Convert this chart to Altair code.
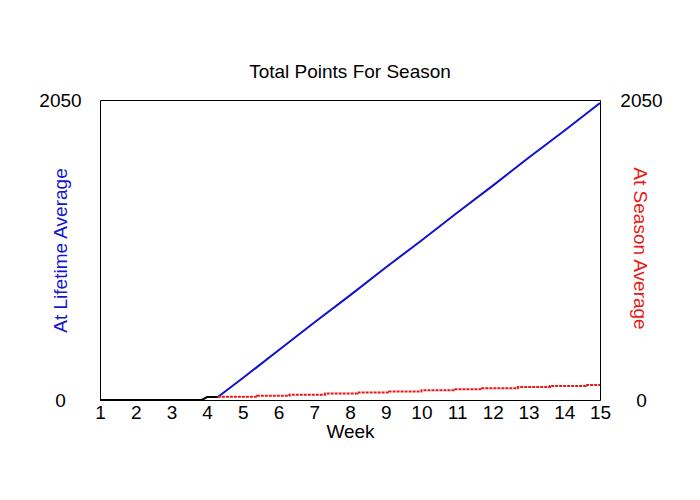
import altair as alt
import pandas as pd

# Data
week_black = [1, 3.85, 4.0, 4.3]
pts_black = [0, 0, 20, 20]

week_blue = [4.3, 5, 6, 7, 8, 9, 10, 11, 12, 13, 14, 15]
pts_blue = [20, 150, 340, 530, 715, 905, 1090, 1280, 1465, 1655, 1840, 2030]

week_red = [4.3, 5.4, 6.3, 7.3, 8.2, 9.1, 10.0, 10.9, 11.7, 12.7, 13.6, 14.6, 15]
pts_red = [22, 29, 36, 44, 51, 58, 66, 73, 80, 88, 95, 102, 102]

x_ticks = list(range(1, 16))
y_ticks = [0, 2050]

left_df = pd.DataFrame({
    "week": week_black + week_blue,
    "pts": pts_black + pts_blue,
    "series": ["pre"] * len(week_black) + ["life"] * len(week_blue),
})
red_df = pd.DataFrame({"week": week_red, "pts": pts_red})

FONT = "Liberation Sans"

x_enc = alt.X(
    "week:Q",
    scale=alt.Scale(domain=[1, 15], nice=False, zero=False),
    axis=alt.Axis(
        values=x_ticks, title="Week", grid=False, ticks=False, tickSize=0,
        domain=False, labelFontSize=19, labelColor="black", labelPadding=3,
        labelFlush=False, titleFontSize=19, titleColor="black",
        titleFontWeight="normal", titlePadding=0, format="d",
    ),
)

left = alt.Chart(left_df).mark_line(strokeWidth=2).encode(
    x=x_enc,
    y=alt.Y(
        "pts:Q",
        scale=alt.Scale(domain=[0, 2050], nice=False),
        axis=alt.Axis(
            orient="left", values=y_ticks, title="At Lifetime Average",
            grid=False, ticks=False, tickSize=0, domain=False, format="d",
            labelFontSize=19, labelColor="black", labelAlign="center",
            labelPadding=40, labelFlush=False, labelBaseline="middle",
            titleColor="#1515d0", titleFontSize=19, titleFontWeight="normal",
            titleAngle=-90, titleX=-40, titleY=150, titleAlign="center",
            titleBaseline="middle",
        ),
    ),
    color=alt.Color(
        "series:N",
        scale=alt.Scale(domain=["pre", "life"], range=["black", "#1010d0"]),
        legend=None,
    ),
    detail="series:N",
)

right = alt.Chart(red_df).mark_line(
    strokeWidth=2, color="#e81818", interpolate="step-after", strokeDash=[3, 1]
).encode(
    x=x_enc,
    y=alt.Y(
        "pts:Q",
        scale=alt.Scale(domain=[0, 2050], nice=False),
        axis=alt.Axis(
            orient="right", values=y_ticks, title="At Season Average",
            grid=False, ticks=False, tickSize=0, domain=False, format="d",
            labelFontSize=19, labelColor="black", labelAlign="center",
            labelPadding=41, labelFlush=False, labelBaseline="middle",
            titleColor="#e81818", titleFontSize=19, titleFontWeight="normal",
            titleAngle=90, titleX=39, titleY=148, titleAlign="center",
            titleBaseline="middle",
        ),
    ),
)

chart = (
    alt.layer(left, right)
    .resolve_scale(y="independent")
    .properties(
        width=500,
        height=300,
        title=alt.TitleParams(
            "Total Points For Season", fontSize=19, fontWeight="normal",
            color="black", anchor="middle", baseline="alphabetic", offset=-6,
        ),
        autosize=alt.AutoSizeParams(type="none"),
        padding={"left": 92, "top": 92, "right": 84, "bottom": 84},
    )
    .configure(font=FONT)
    .configure_view(stroke="black", strokeWidth=1)
)

chart.save("out.html", embed_options={"renderer": "svg", "actions": False})
